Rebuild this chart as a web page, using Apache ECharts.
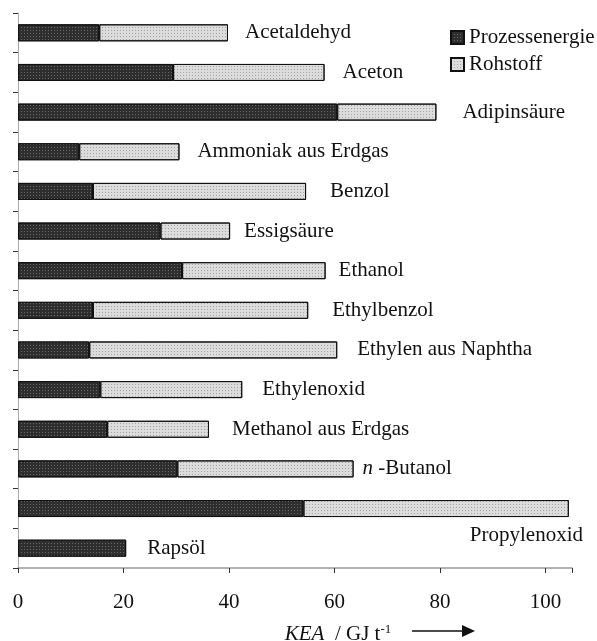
<!DOCTYPE html>
<html>
<head>
<meta charset="utf-8">
<script src="https://cdn.jsdelivr.net/npm/echarts@6/dist/echarts.min.js"></script>
<style>
  html, body { margin: 0; padding: 0; background: #fff; }
  #chart { width: 597px; height: 641px; }
</style>
</head>
<body>
<div id="chart"></div>
<script>
// categories top to bottom
const categories = ['Acetaldehyd', 'Aceton', 'Adipinsäure', 'Ammoniak aus Erdgas', 'Benzol',
  'Essigsäure', 'Ethanol', 'Ethylbenzol', 'Ethylen aus Naphtha', 'Ethylenoxid',
  'Methanol aus Erdgas', 'n-Butanol', 'Propylenoxid', 'Rapsöl']
// KEA in GJ/t
const prozessenergie = [15.4, 29.4, 60.5, 11.6, 14.2, 27.0, 31.1, 14.2, 13.5, 15.6, 16.9, 30.2, 54.1, 20.5]
const rohstoff = [24.4, 28.7, 18.8, 19.0, 40.4, 13.2, 27.2, 40.8, 47.0, 26.9, 19.3, 33.4, 50.3, 0]
const xTicks = [0, 20, 40, 60, 80, 100]

const serif = 'Liberation Serif'

// label gap to bar end (px), the reference places them by hand
const labelGap = {
  'Acetaldehyd': 17, 'Aceton': 18, 'Adipinsäure': 26, 'Ammoniak aus Erdgas': 18,
  'Benzol': 24, 'Essigsäure': 14, 'Ethanol': 13, 'Ethylbenzol': 24,
  'Ethylen aus Naphtha': 20, 'Ethylenoxid': 20, 'Methanol aus Erdgas': 23,
  'n-Butanol': 9, 'Rapsöl': 21
}

function labelText(name) {
  if (name === 'n-Butanol') return '{i|n} -Butanol'
  return name
}

let rohData = []
for (let i = 0; i < categories.length; i++) {
  let name = categories[i]
  let item = { value: rohstoff[i], label: {} }
  if (name === 'Propylenoxid') {
    // sits under the bar, right aligned
    item.label = { distance: 5, offset: [-104, 27] }
  } else {
    item.label = { distance: labelGap[name] }
  }
  if (rohstoff[i] === 0) {
    item.itemStyle = { borderWidth: 0 }
  }
  rohData.push(item)
}

const darkDecal = {
  symbol: 'rect', symbolSize: 1, color: 'rgba(255,255,255,0.28)',
  dashArrayX: [1, 2], dashArrayY: [1, 2], rotation: 0
}
const lightDecal = {
  symbol: 'rect', symbolSize: 1, color: 'rgba(60,60,60,0.35)',
  dashArrayX: [1, 2], dashArrayY: [1, 2], rotation: 0
}

var chart = echarts.init(document.getElementById('chart'), null, { renderer: 'canvas' })

var option = {
  animation: false,
  backgroundColor: '#fff',
  textStyle: { fontFamily: serif, color: '#111' },
  grid: { left: 18, right: 25, top: 13, bottom: 73, outerBoundsMode: 'none', containLabel: false },
  legend: {
    orient: 'vertical',
    left: 450,
    top: 27,
    padding: 0,
    icon: 'rect',
    itemWidth: 13,
    itemHeight: 13,
    itemGap: 6,
    textStyle: { fontFamily: serif, fontSize: 21, color: '#111' },
    data: ['Prozessenergie', 'Rohstoff']
  },
  xAxis: {
    type: 'value',
    min: 0,
    max: 105,
    interval: 20,
    splitLine: { show: false },
    axisLine: { show: true, lineStyle: { color: '#999', width: 1.5 } },
    axisTick: { show: true, length: 5, lineStyle: { color: '#333' } },
    axisLabel: {
      fontFamily: serif, fontSize: 21, color: '#111', margin: 24,
      formatter: function (v) { return xTicks.indexOf(v) >= 0 ? String(v) : '' }
    },
    name: '{i|KEA}  / GJ t{sup|-1}',
    nameLocation: 'middle',
    nameGap: 55,
    nameTextStyle: {
      fontFamily: serif, fontSize: 21, color: '#111',
      padding: [0, 0, 0, 86],
      rich: {
        i: { fontFamily: serif, fontSize: 21, fontStyle: 'italic', color: '#111' },
        sup: { fontFamily: serif, fontSize: 13, color: '#111', verticalAlign: 'top', padding: [0, 0, 10, 0] }
      }
    }
  },
  yAxis: {
    type: 'category',
    inverse: true,
    data: categories,
    axisLine: { show: true, lineStyle: { color: '#aaa' } },
    axisTick: { show: true, length: 5, lineStyle: { color: '#333' } },
    axisLabel: { show: false }
  },
  series: [
    {
      name: 'Prozessenergie',
      type: 'bar',
      stack: 'kea',
      barWidth: 17,
      data: prozessenergie,
      itemStyle: { color: '#2e2e2e', borderColor: '#111', borderWidth: 1, decal: darkDecal }
    },
    {
      name: 'Rohstoff',
      type: 'bar',
      stack: 'kea',
      barWidth: 17,
      data: rohData,
      itemStyle: { color: '#dcdcdc', borderColor: '#111', borderWidth: 1, decal: lightDecal },
      label: {
        show: true,
        position: 'right',
        fontFamily: serif,
        fontSize: 21,
        color: '#111',
        formatter: function (p) { return labelText(p.name) },
        rich: {
          i: { fontFamily: serif, fontSize: 21, fontStyle: 'italic', color: '#111' }
        }
      }
    }
  ],
  graphic: [
    { type: 'line', shape: { x1: 412, y1: 631, x2: 464, y2: 631 }, style: { stroke: '#111', lineWidth: 1.5 } },
    { type: 'polygon', shape: { points: [[462, 625], [475, 631], [462, 637]] }, style: { fill: '#111' } }
  ]
}

chart.setOption(option)
</script>
</body>
</html>
